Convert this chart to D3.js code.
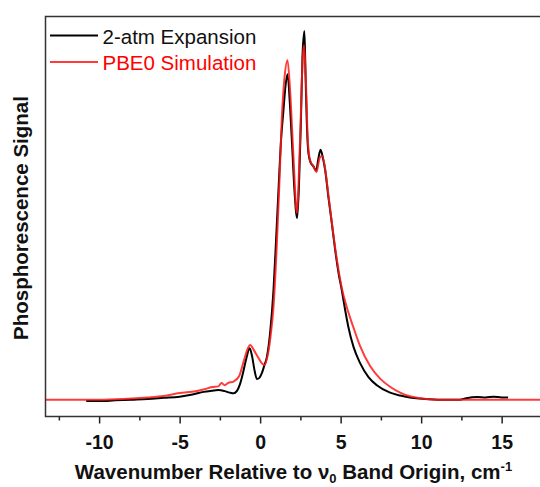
<!DOCTYPE html>
<html>
<head>
<meta charset="utf-8">
<script src="https://cdn.jsdelivr.net/npm/d3@7"></script>
<style>
  html, body { margin: 0; padding: 0; background: #fff; }
  svg { display: block; }
  text { font-family: "Liberation Sans", Arial, sans-serif; }
</style>
</head>
<body>
<svg id="chart" width="540" height="487"></svg>
<script>
// ---- data ----
const seriesNames = ["2-atm Expansion", "PBE0 Simulation"];

const expX = [-10.8, -10, -9, -8, -7, -6, -5, -4.2, -3.5, -3.0, -2.6, -2.2, -1.9, -1.65, -1.45, -1.25, -1.05, -0.85, -0.65, -0.5, -0.35, -0.2, -0.05, 0.1, 0.25, 0.42, 0.62, 0.83, 0.99, 1.14, 1.3, 1.45, 1.55, 1.7, 1.86, 2.0, 2.13, 2.3, 2.42, 2.53, 2.63, 2.75, 2.82, 2.9, 3.0, 3.15, 3.3, 3.48, 3.6, 3.75, 3.9, 4.04, 4.24, 4.45, 4.66, 4.87, 5.07, 5.28, 5.48, 5.8, 6.21, 6.73, 7.25, 8.07, 8.7, 9.3, 9.9, 11, 12.4, 12.8, 13.5, 14.0, 14.5, 15.0, 15.4];
const expY = [-0.003, -0.003, -0.001, 0.001, 0.003, 0.006, 0.009, 0.015, 0.022, 0.025, 0.027, 0.024, 0.020, 0.018, 0.024, 0.043, 0.076, 0.114, 0.140, 0.119, 0.081, 0.057, 0.060, 0.072, 0.092, 0.117, 0.182, 0.298, 0.434, 0.569, 0.705, 0.786, 0.840, 0.883, 0.794, 0.678, 0.569, 0.493, 0.591, 0.751, 0.930, 1.0, 0.881, 0.751, 0.669, 0.642, 0.634, 0.621, 0.650, 0.678, 0.656, 0.623, 0.550, 0.480, 0.407, 0.344, 0.298, 0.244, 0.198, 0.144, 0.100, 0.062, 0.040, 0.020, 0.012, 0.007, 0.004, 0.001, 0.001, 0.005, 0.008, 0.007, 0.009, 0.007, 0.007];

const simX = [-13.4, -10, -8.5, -7, -6, -5, -4, -3.4, -3.0, -2.6, -2.4, -2.2, -2.0, -1.65, -1.3, -1.0, -0.8, -0.62, -0.4, -0.1, 0.1, 0.27, 0.45, 0.62, 0.83, 1.03, 1.18, 1.35, 1.5, 1.7, 1.86, 2.07, 2.28, 2.48, 2.65, 2.73, 2.84, 2.96, 3.1, 3.3, 3.5, 3.7, 3.85, 4.05, 4.24, 4.45, 4.66, 4.87, 5.07, 5.38, 5.8, 6.21, 6.83, 7.45, 8.07, 8.7, 9.3, 9.9, 11, 17.6];
const simY = [0.001, 0.001, 0.003, 0.007, 0.011, 0.019, 0.024, 0.030, 0.035, 0.037, 0.046, 0.040, 0.046, 0.050, 0.065, 0.108, 0.136, 0.149, 0.136, 0.114, 0.100, 0.095, 0.117, 0.163, 0.252, 0.415, 0.569, 0.767, 0.867, 0.921, 0.840, 0.659, 0.507, 0.705, 0.930, 0.962, 0.867, 0.705, 0.650, 0.634, 0.618, 0.656, 0.661, 0.623, 0.556, 0.482, 0.412, 0.352, 0.304, 0.252, 0.196, 0.146, 0.092, 0.058, 0.036, 0.020, 0.010, 0.005, 0.001, 0.001];

const majorTicks = [-10, -5, 0, 5, 10, 15];
const minorTicks = [-12.5, -7.5, -2.5, 2.5, 7.5, 12.5, 17.5];
const tickLabels = ["-10", "-5", "0", "5", "10", "15"];

// ---- layout ----
const svg = d3.select("#chart");
const mLeft = 45.5, mTop = 16.5, mBottom = 416.5, mRight = 541.9;

const x = d3.scaleLinear().domain([-13.33, 17.5]).range([mLeft, mRight]);
const y = d3.scaleLinear().domain([-0.0447, 1.0393]).range([mBottom, mTop]);

const defs = svg.append("defs");
defs.append("clipPath").attr("id", "clip")
  .append("rect").attr("x", mLeft).attr("y", mTop).attr("width", mRight - mLeft).attr("height", mBottom - mTop);

// bottom axis ticks
const axisMajor = d3.axisBottom(x).tickValues(majorTicks).tickSize(7)
  .tickFormat((d, i) => tickLabels[i]).tickSizeOuter(0);
const gx = svg.append("g").attr("transform", `translate(0,${mBottom})`).call(axisMajor);
gx.select(".domain").remove();
gx.selectAll(".tick line").attr("stroke", "#222").attr("stroke-width", 1.5);
gx.selectAll(".tick text")
  .attr("y", 19)
  .attr("dy", "0.71em")
  .style("font-family", "'Liberation Sans', Arial, sans-serif")
  .style("font-size", "19.5px").style("font-weight", "bold").attr("fill", "#111");

const axisMinor = d3.axisBottom(x).tickValues(minorTicks).tickSize(4).tickFormat("").tickSizeOuter(0);
const gxm = svg.append("g").attr("transform", `translate(0,${mBottom})`).call(axisMinor);
gxm.select(".domain").remove();
gxm.selectAll(".tick line").attr("stroke", "#222").attr("stroke-width", 1.5);

// lines
const expData = expX.map((v, i) => [v, expY[i]]);
const simData = simX.map((v, i) => [v, simY[i]]);
const line = d3.line().x(d => x(d[0])).y(d => y(d[1])).curve(d3.curveMonotoneX);

const plot = svg.append("g").attr("clip-path", "url(#clip)");
plot.append("path").datum(expData).attr("d", line)
  .attr("fill", "none").attr("stroke", "#000").attr("stroke-width", 2).attr("stroke-linejoin", "round");
plot.append("path").datum(simData).attr("d", line)
  .attr("fill", "none").attr("stroke", "#ff1a1a").attr("stroke-opacity", 0.85).attr("stroke-width", 2).attr("stroke-linejoin", "round");

// frame
svg.append("rect").attr("x", mLeft).attr("y", mTop).attr("width", mRight - mLeft + 2).attr("height", mBottom - mTop)
  .attr("fill", "none").attr("stroke", "#333").attr("stroke-width", 1.5);

// legend
const legend = [
  { name: seriesNames[0], color: "#000", text: "#111", ly: 35.5, ty: 43.5 },
  { name: seriesNames[1], color: "#ff1a1a", text: "#ff0000", ly: 62, ty: 70 }
];
legend.forEach(l => {
  svg.append("line").attr("x1", 50).attr("x2", 98).attr("y1", l.ly).attr("y2", l.ly)
    .attr("stroke", l.color).attr("stroke-width", 2).attr("stroke-opacity", l.color === "#000" ? 1 : 0.85);
  svg.append("text").attr("x", 102.5).attr("y", l.ty).text(l.name)
    .attr("fill", l.text).style("font-size", "20.5px");
});

// axis titles
const xt = svg.append("text").attr("x", 293.5).attr("y", 479).attr("text-anchor", "middle")
  .style("font-size", "20.5px").style("font-weight", "bold").attr("fill", "#111");
xt.append("tspan").text("Wavenumber Relative to ν");
xt.append("tspan").text("0").attr("dy", 4).style("font-size", "13px");
xt.append("tspan").text(" Band Origin, cm").attr("dy", -4);
xt.append("tspan").text("-1").attr("dy", -8).style("font-size", "13px");

svg.append("text").attr("transform", "translate(28,218) rotate(-90)").attr("text-anchor", "middle")
  .text("Phosphorescence Signal")
  .style("font-size", "20.5px").style("font-weight", "bold").attr("fill", "#111");
</script>
</body>
</html>
